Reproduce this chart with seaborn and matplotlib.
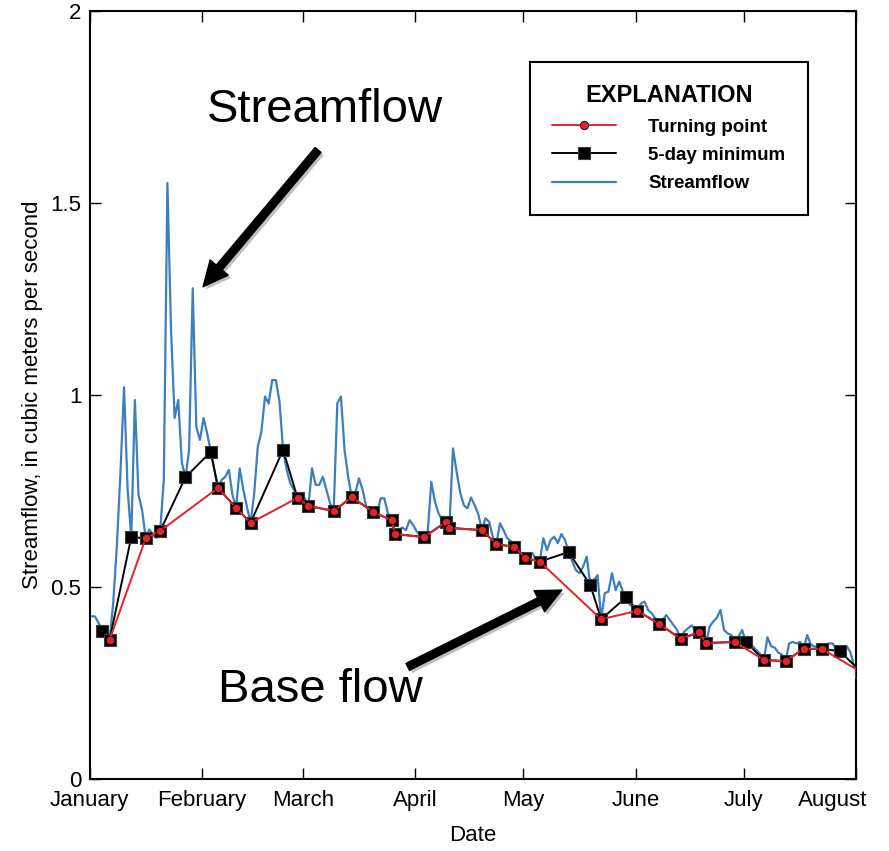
import matplotlib
matplotlib.use("Agg")
import matplotlib.pyplot as plt
import matplotlib.patheffects as pe
import matplotlib.transforms as mtransforms
import pandas as pd
import seaborn as sns

# daily streamflow, Jan 1 onwards (m3/s)
flow = [0.424, 0.423, 0.405, 0.385, 0.375, 0.362, 0.458, 0.605, 0.797, 1.02,
        0.753, 0.63, 0.987, 0.74, 0.70, 0.627, 0.65, 0.636, 0.628, 0.646,
        0.779, 1.552, 1.17, 0.94, 0.987, 0.823, 0.786, 0.857, 1.278, 0.917,
        0.883, 0.94, 0.90, 0.852, 0.805, 0.758, 0.779, 0.787, 0.805, 0.74,
        0.706, 0.809, 0.753, 0.709, 0.667, 0.743, 0.865, 0.905, 0.996, 0.978,
        1.039, 1.039, 0.983, 0.857, 0.805, 0.77, 0.753, 0.732, 0.735, 0.731,
        0.711, 0.809, 0.766, 0.766, 0.787, 0.753, 0.718, 0.698, 0.978, 0.996,
        0.857, 0.787, 0.734, 0.745, 0.783, 0.753, 0.709, 0.70, 0.695, 0.692,
        0.731, 0.731, 0.692, 0.674, 0.638, 0.648, 0.655, 0.648, 0.674, 0.661,
        0.644, 0.635, 0.63, 0.642, 0.774, 0.722, 0.692, 0.674, 0.669, 0.654,
        0.861, 0.80, 0.746, 0.713, 0.705, 0.733, 0.713, 0.69, 0.648, 0.679,
        0.67, 0.631, 0.612, 0.666, 0.648, 0.627, 0.62, 0.604, 0.596, 0.588,
        0.576, 0.578, 0.588, 0.57, 0.566, 0.627, 0.596, 0.622, 0.631, 0.614,
        0.638, 0.622, 0.591, 0.566, 0.544, 0.536, 0.553, 0.579, 0.505, 0.518,
        0.531, 0.416, 0.484, 0.488, 0.536, 0.492, 0.514, 0.488, 0.474, 0.453,
        0.449, 0.438, 0.457, 0.462, 0.44, 0.431, 0.418, 0.404, 0.414, 0.427,
        0.414, 0.401, 0.388, 0.365, 0.384, 0.392, 0.40, 0.388, 0.382, 0.375,
        0.354, 0.397, 0.41, 0.42, 0.44, 0.388, 0.379, 0.375, 0.357, 0.371,
        0.388, 0.357, 0.349, 0.345, 0.335, 0.325, 0.31, 0.369, 0.346, 0.342,
        0.329, 0.324, 0.307, 0.353, 0.357, 0.353, 0.357, 0.339, 0.375, 0.35,
        0.345, 0.345, 0.339, 0.35, 0.353, 0.353, 0.34, 0.333, 0.345, 0.345,
        0.329, 0.292, 0.285, 0.278]

# 5-day minimum flows, with a flag for those that are turning points
min_dates = ["01-04", "01-06", "01-12", "01-16", "01-20", "01-27", "02-03",
             "02-05", "02-10", "02-14", "02-23", "02-27", "03-02", "03-09",
             "03-14", "03-20", "03-25", "03-26", "04-03", "04-09", "04-10",
             "04-19", "04-23", "04-28", "05-01", "05-05", "05-13", "05-19",
             "05-22", "05-29", "06-01", "06-07", "06-13", "06-18", "06-20",
             "06-28", "07-01", "07-06", "07-12", "07-17", "07-22", "07-27",
             "08-02"]
min_values = [0.385, 0.362, 0.63, 0.627, 0.646, 0.786, 0.852, 0.758, 0.706,
              0.667, 0.857, 0.732, 0.711, 0.698, 0.734, 0.695, 0.674, 0.638,
              0.63, 0.669, 0.654, 0.648, 0.612, 0.604, 0.576, 0.566, 0.591,
              0.505, 0.416, 0.474, 0.438, 0.404, 0.365, 0.382, 0.354, 0.357,
              0.357, 0.31, 0.307, 0.339, 0.339, 0.333, 0.278]
turning = [0, 1, 0, 1, 1, 0, 0, 1, 1, 1, 0, 1, 1, 1, 1, 1, 1, 1, 1, 1, 1, 1,
           1, 1, 1, 1, 0, 0, 1, 0, 1, 1, 1, 1, 1, 1, 0, 1, 1, 1, 1, 0, 1]

months = ["January", "February", "March", "April", "May", "June", "July", "August"]
yticks = [0, 0.5, 1, 1.5, 2]
ytick_labels = ["0", "0.5", "1", "1.5", "2"]

year = "2015"
noon = pd.Timedelta(hours=12)
flow_days = pd.date_range(year + "-01-01", periods=len(flow), freq="D") + noon
min_days = pd.to_datetime([year + "-" + d for d in min_dates]) + noon
tp_days = [d for d, t in zip(min_days, turning) if t]
tp_values = [v for v, t in zip(min_values, turning) if t]
month_starts = pd.date_range(year + "-01-01", periods=len(months), freq="MS")

sns.set_theme(style="ticks")
font = ["Liberation Sans", "DejaVu Sans"]
plt.rcParams["font.family"] = font
plt.rcParams["text.color"] = "black"
plt.rcParams["axes.labelcolor"] = "black"

fig = plt.figure(figsize=(8.89, 8.51), dpi=100)
ax = fig.add_axes([0.1009, 0.0846, 0.862, 0.9025])

sns.lineplot(x=flow_days, y=flow, color="#3b7fc0", lw=1.6, ax=ax, zorder=2)
sns.lineplot(x=min_days, y=min_values, color="black", lw=1.4, marker="s",
             markersize=9, markeredgecolor="#3a3a3a", markeredgewidth=0.8,
             ax=ax, zorder=3)
sns.lineplot(x=tp_days, y=tp_values, color="#e3222a", lw=1.4, marker="o",
             markersize=6, markeredgecolor="black", markeredgewidth=0.6,
             ax=ax, zorder=4)
flow_line, min_line, tp_line = ax.lines[0], ax.lines[1], ax.lines[2]

ax.set_xlim(month_starts[0], month_starts[-1])
ax.set_xticks(month_starts)
ax.set_xticklabels(months)
ax.set_ylim(0, 2)
ax.set_yticks(yticks)
ax.set_yticklabels(ytick_labels)

for s in ax.spines.values():
    s.set_visible(True)
    s.set_linewidth(1.5)
    s.set_color("black")
ax.tick_params(direction="in", length=8, width=1, top=True, right=True,
               labelsize=16, colors="black")
ax.tick_params(axis="x", pad=8)
ax.tick_params(axis="y", pad=6)
ax.set_xlabel("Date", fontsize=16, labelpad=10)
ax.set_ylabel("Streamflow, in cubic meters per second", fontsize=16, labelpad=5)

last = ax.get_xticklabels()[-1]
last.set_horizontalalignment("right")
last.set_transform(last.get_transform() +
                   mtransforms.ScaledTranslation(0.11, 0, fig.dpi_scale_trans))

# annotations
ax.text(0.307, 0.871, "Streamflow", transform=ax.transAxes, ha="center",
        va="center", fontsize=34, color="black")
ax.text(0.301, 0.116, "Base flow", transform=ax.transAxes, ha="center",
        va="center", fontsize=34, color="black")
arrow_style = "simple,head_length=1.8,head_width=1.7,tail_width=0.55"
for tip, tail in [((0.148, 0.641), (0.298, 0.819)),
                  ((0.616, 0.246), (0.415, 0.146))]:
    a = ax.annotate("", xy=tip, xytext=tail, xycoords="axes fraction",
                    arrowprops=dict(arrowstyle=arrow_style, fc="black",
                                    ec="black", mutation_scale=10,
                                    shrinkA=0, shrinkB=0))
    a.arrow_patch.set_path_effects([pe.SimplePatchShadow(offset=(2, -2), alpha=0.25),
                                    pe.Normal()])

leg = ax.legend([tp_line, min_line, flow_line],
                ["Turning point", "5-day minimum", "Streamflow"],
                title="EXPLANATION", loc="upper right",
                bbox_to_anchor=(0.937, 0.934), borderaxespad=0,
                frameon=True, fancybox=False, edgecolor="black", framealpha=1,
                prop=dict(family=font, weight="bold", size=13.5),
                title_fontproperties=dict(family=font, weight="bold", size=17),
                handlelength=3.4, handletextpad=1.7, labelspacing=0.6,
                borderpad=1.2)
leg.get_frame().set_linewidth(1.5)

fig.savefig("out.png", dpi=100)
